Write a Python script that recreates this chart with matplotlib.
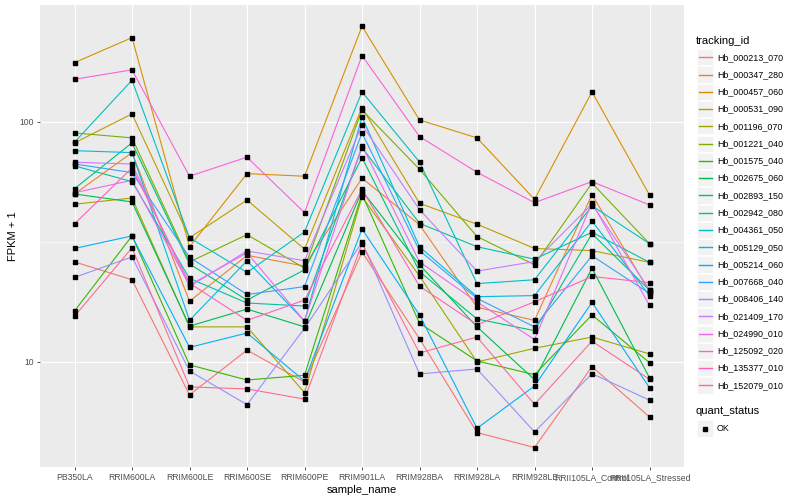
import matplotlib
matplotlib.use('Agg')
import matplotlib.pyplot as plt
from matplotlib.lines import Line2D
from matplotlib.patches import Rectangle
from matplotlib.ticker import FixedLocator, NullFormatter

plt.rcParams['font.family'] = ['Liberation Sans', 'DejaVu Sans']

# sample order on the x axis
samples = ['PB350LA', 'RRIM600LA', 'RRIM600LE', 'RRIM600SE', 'RRIM600PE', 'RRIM901LA',
           'RRIM928BA', 'RRIM928LA', 'RRIM928LE', 'RRII105LA_Control', 'RRII105LA_Stressed']

# FPKM + 1 per gene, one value per sample
hb_000213_070 = [26.1, 22.0, 7.29, 11.2, 8.25, 28.7, 12.5, 5.08, 4.40, 9.56, 5.90]
hb_000347_280 = [50.1, 74.5, 17.9, 27.8, 25.1, 58.3, 37.3, 16.9, 14.9, 49.8, 19.6]
hb_000457_060 = [176.6, 224.5, 30.2, 60.9, 59.4, 250.5, 101.9, 85.8, 47.6, 133.4, 49.6]
hb_000531_090 = [81.8, 108.0, 32.9, 47.3, 29.5, 114.7, 45.8, 37.5, 29.7, 29.1, 26.0]
hb_001196_070 = [45.4, 48.2, 14.0, 14.0, 7.45, 48.8, 22.8, 10.0, 11.4, 12.7, 10.8]
hb_001221_040 = [90.0, 85.8, 26.1, 33.9, 24.6, 112.2, 63.5, 33.3, 25.4, 55.6, 31.1]
hb_001575_040 = [16.3, 33.5, 9.72, 8.41, 8.80, 50.0, 14.5, 10.1, 8.85, 15.7, 9.93]
hb_002675_060 = [50.1, 46.4, 14.1, 16.6, 14.0, 51.7, 25.4, 14.0, 8.44, 24.6, 8.58]
hb_002893_150 = [52.7, 81.8, 25.6, 18.1, 24.2, 71.0, 23.8, 15.1, 13.5, 34.2, 19.9]
hb_002942_080 = [65.6, 56.4, 22.3, 17.6, 17.1, 78.2, 37.8, 30.2, 26.8, 34.7, 26.0]
hb_004361_050 = [82.3, 149.2, 32.9, 23.6, 34.8, 133.4, 68.1, 21.2, 22.0, 44.7, 31.1]
hb_005129_050 = [75.9, 74.5, 14.9, 26.4, 14.8, 104.9, 30.2, 18.7, 18.9, 38.6, 18.9]
hb_005214_060 = [29.7, 33.5, 11.5, 13.2, 8.33, 35.8, 15.7, 5.29, 7.94, 17.7, 7.81]
hb_007668_040 = [66.8, 61.5, 27.3, 19.1, 20.6, 90.0, 29.1, 18.4, 14.0, 27.7, 19.3]
hb_008406_140 = [22.5, 27.4, 9.17, 6.64, 13.8, 31.5, 8.91, 9.35, 5.11, 8.94, 6.93]
hb_021409_170 = [67.9, 66.8, 20.6, 29.0, 26.4, 97.2, 43.1, 23.9, 26.2, 45.5, 20.0]
hb_024990_010 = [50.7, 57.1, 20.9, 28.5, 14.8, 79.7, 26.1, 17.8, 12.4, 46.1, 17.2]
hb_125092_020 = [150.6, 164.8, 59.4, 71.3, 41.9, 188.9, 86.9, 61.7, 46.1, 56.4, 45.1]
hb_135377_010 = [37.6, 64.3, 21.3, 14.9, 18.1, 52.4, 20.7, 14.3, 17.8, 22.7, 21.4]
hb_152079_010 = [15.5, 29.9, 7.87, 7.72, 7.00, 31.1, 10.9, 12.7, 6.66, 12.2, 8.47]

tracking_ids = ['Hb_000213_070', 'Hb_000347_280', 'Hb_000457_060', 'Hb_000531_090',
                'Hb_001196_070', 'Hb_001221_040', 'Hb_001575_040', 'Hb_002675_060',
                'Hb_002893_150', 'Hb_002942_080', 'Hb_004361_050', 'Hb_005129_050',
                'Hb_005214_060', 'Hb_007668_040', 'Hb_008406_140', 'Hb_021409_170',
                'Hb_024990_010', 'Hb_125092_020', 'Hb_135377_010', 'Hb_152079_010']
series = [hb_000213_070, hb_000347_280, hb_000457_060, hb_000531_090, hb_001196_070,
          hb_001221_040, hb_001575_040, hb_002675_060, hb_002893_150, hb_002942_080,
          hb_004361_050, hb_005129_050, hb_005214_060, hb_007668_040, hb_008406_140,
          hb_021409_170, hb_024990_010, hb_125092_020, hb_135377_010, hb_152079_010]

# ggplot default hue palette for 20 levels
colors = ['#F8766D', '#EA8331', '#D89000', '#C09B00', '#A3A500', '#7CAE00', '#39B600',
          '#00BB4E', '#00BF7D', '#00C1A3', '#00BFC4', '#00BAE0', '#00B0F6', '#35A2FF',
          '#9590FF', '#C77CFF', '#E76BF3', '#FA62DB', '#FF62BC', '#FF6C91']

W, H = 800, 500
fig = plt.figure(figsize=(8, 5), dpi=100)
ax = fig.add_axes([40 / W, 1 - 467 / H, 644 / W, 462 / H])
ax.set_facecolor('#EBEBEB')

x = list(range(1, len(samples) + 1))
for vals, col in zip(series, colors):
    ax.plot(x, vals, color=col, lw=0.8, zorder=2)
for vals in series:
    ax.plot(x, vals, ls='none', marker='s', ms=2.5, color='black', zorder=3)

ax.set_yscale('log')
ax.set_ylim(3.65, 307)
ax.set_xlim(0.4, len(samples) + 0.6)
ax.yaxis.set_major_locator(FixedLocator([10, 100]))
ax.set_yticklabels(['10', '100'])
ax.yaxis.set_minor_locator(FixedLocator([10 ** 1.5]))
ax.yaxis.set_minor_formatter(NullFormatter())
ax.set_xticks(x)
ax.set_xticklabels(samples)

ax.grid(True, which='major', color='white', lw=0.8)
ax.grid(True, which='minor', axis='y', color='white', lw=0.4)
ax.set_axisbelow(True)
for s in ax.spines.values():
    s.set_visible(False)
ax.tick_params(which='major', length=2.2, width=0.6, color='#333333',
               labelsize=6.2, labelcolor='#4D4D4D', pad=2)
ax.tick_params(which='minor', length=0)

ax.set_xlabel('sample_name', fontsize=8, labelpad=2)
ax.set_ylabel('FPKM + 1', fontsize=8, labelpad=1)


# legends drawn by hand in pixel positions
def fx(px):
    return px / W


def fy(py):
    return 1 - py / H


fig.text(fx(696), fy(40.5), 'tracking_id', fontsize=8, va='center', ha='left')
for i, (tid, col) in enumerate(zip(tracking_ids, colors)):
    yc = 57.3 + 17.27 * i
    fig.add_artist(Rectangle((fx(696.5), fy(yc + 8.1)), 16.4 / W, 16.2 / H,
                             transform=fig.transFigure, facecolor='#F2F2F2',
                             edgecolor='white', lw=0.5))
    fig.add_artist(Line2D([fx(698.5), fx(711.5)], [fy(yc), fy(yc)],
                          transform=fig.transFigure, color=col, lw=1.0))
    fig.text(fx(717), fy(yc), tid, fontsize=6.4, va='center', ha='left')

fig.text(fx(696), fy(410.5), 'quant_status', fontsize=8, va='center', ha='left')
fig.add_artist(Rectangle((fx(696.5), fy(428.5 + 8.1)), 16.4 / W, 16.2 / H,
                         transform=fig.transFigure, facecolor='#F2F2F2',
                         edgecolor='white', lw=0.5))
fig.add_artist(Line2D([fx(704.7)], [fy(428.5)], transform=fig.transFigure,
                      ls='none', marker='s', ms=2.5, color='black'))
fig.text(fx(717), fy(428.5), 'OK', fontsize=6.4, va='center', ha='left')

fig.savefig('out.png', dpi=100)
